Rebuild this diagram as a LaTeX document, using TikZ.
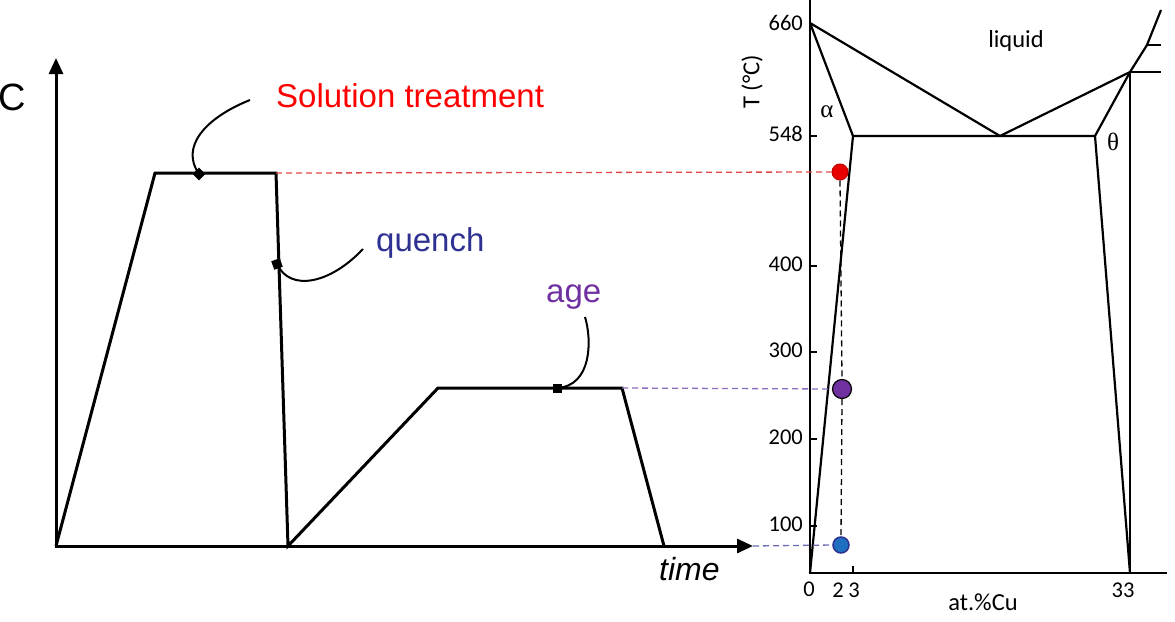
\documentclass[tikz,border=0pt]{standalone}
\usepackage{fontspec}
\setmainfont{Liberation Sans}
\newfontfamily\carlito{Carlito}
\newfontfamily\grkfont{Liberation Serif}
\usetikzlibrary{arrows.meta,shapes.geometric}
\definecolor{solred}{HTML}{FF0000}
\definecolor{qblue}{HTML}{2E3192}
\definecolor{agepurple}{HTML}{7030A0}
\definecolor{dashred}{HTML}{E04848}
\definecolor{dashpurple}{HTML}{8A6CC0}
\definecolor{dashblue}{HTML}{6A6AB8}
\definecolor{dotred}{HTML}{E80000}
\definecolor{dotredline}{HTML}{C00000}
\definecolor{dotblue}{HTML}{1F6FC0}
\tikzset{
  profile/.style={line width=3pt, line join=miter},
  axisarrow/.style={line width=3pt, -{Triangle[length=16pt,width=14pt]}},
  leader/.style={line width=2pt},
  phase/.style={line width=2.2pt, line join=miter},
  tickmark/.style={line width=2pt},
  guide/.style={line width=1.3pt, dash pattern=on 6pt off 4pt},
  bigtxt/.style={font=\fontsize{33}{40}\selectfont, inner sep=0pt},
  numtxt/.style={font=\carlito\fontsize{22.5}{26}\selectfont, inner sep=0pt},
  lbltxt/.style={font=\carlito\fontsize{24.5}{28}\selectfont, inner sep=0pt},
  grktxt/.style={font=\grkfont\fontsize{25}{30}\selectfont, inner sep=0pt},
  marker/.style={fill=black, draw=none, inner sep=0pt, minimum size=9pt},
}
\begin{document}
\begin{tikzpicture}[x=1pt,y=-1pt]
\useasboundingbox (0,0) rectangle (1175,621);

% ---------------- left chart ----------------
\coordinate (o) at (56,546);
\coordinate (ytop) at (56,58);
\coordinate (xend) at (753,546);
\coordinate (p1) at (155,173);
\coordinate (p2) at (276,173);
\coordinate (p3) at (288,546);
\coordinate (p4) at (438,388);
\coordinate (p5) at (622,388);
\coordinate (p6) at (664,546);

\draw[axisarrow] (56,547.5) -- (ytop);
\draw[axisarrow] (54.5,546) -- (xend);
\draw[profile] (o) -- (p1) -- (p2) -- (p3) -- (p4) -- (p5) -- (p6);

% markers
\node[marker, shape=diamond, minimum size=13pt] (msol) at (199,174) {};
\node[marker, rotate=20] (mque) at (277,264) {};
\node[marker] (mage) at (557,388) {};

% leaders
\coordinate (lsol) at (250,100);
\coordinate (lque) at (363,249);
\coordinate (lage) at (585,317);
\draw[leader] (lsol) .. controls (205,118) and (180,147) .. (msol.center);
\draw[leader] (mque.center) .. controls (290,292) and (330,284) .. (lque);
\draw[leader] (mage.center) .. controls (592,386) and (592,340) .. (lage);

% texts
\node[bigtxt, font=\fontsize{38}{44}\selectfont, anchor=center] (clab) at (12,97) {C};
\node[bigtxt, text=solred, anchor=base west] (soltxt) at (276,107) {Solution treatment};
\node[bigtxt, text=qblue, anchor=base west] (quetxt) at (376,251) {quench};
\node[bigtxt, text=agepurple, anchor=base west] (agetxt) at (546,302) {age};
\node[bigtxt, font=\itshape\fontsize{32}{38}\selectfont, anchor=base west] (timetxt) at (659,580) {time};

% ---------------- phase diagram ----------------
\coordinate (ax0) at (810,573);
\coordinate (axtop) at (810,0);
\coordinate (axright) at (1167,573);
\coordinate (m660) at (810,23);
\coordinate (a548) at (853,136);
\coordinate (eut) at (1000,136);
\coordinate (t548) at (1095,136);
\coordinate (tpk) at (1130,72);
\coordinate (tmid) at (1147,45);
\coordinate (ttop) at (1161,10);
\coordinate (tbot) at (1130,573);

\draw[phase] (axtop) -- (ax0) -- (axright);
\draw[phase] (m660) -- (a548) -- (t548) -- (tpk);
\draw[phase] (m660) -- (eut) -- (tpk) -- (tmid) -- (ttop);
\draw[phase] (a548) -- (ax0);
\draw[phase] (t548) -- (tbot);
\draw[phase] (tpk) -- (tbot);
\draw[phase] (tpk) -- (1161,72);
\draw[phase] (tmid) -- (1161,45);

% ticks
\foreach \yy in {136,266,352,439,526} \draw[tickmark] (810,\yy) -- (817,\yy);
\draw[tickmark] (853,573) -- (853,566);

% tick labels
\node[numtxt, anchor=east] (l660) at (803,23) {660};
\node[numtxt, anchor=east] (l548) at (803,134) {548};
\node[numtxt, anchor=east] (l400) at (803,264) {400};
\node[numtxt, anchor=east] (l300) at (803,350) {300};
\node[numtxt, anchor=east] (l200) at (803,437) {200};
\node[numtxt, anchor=east] (l100) at (803,524) {100};
\node[numtxt] (x0) at (809,589) {0};
\node[numtxt] (x2) at (838,590) {2};
\node[numtxt] (x3) at (854,590) {3};
\node[numtxt] (x33) at (1123,590) {33};
\node[lbltxt] (xlab) at (983,602) {at.\%Cu};
\node[lbltxt, rotate=90] (ylab) at (752,82) {T (°C)};
\node[lbltxt] (liq) at (1016,41) {liquid};
\node[grktxt] (alph) at (827,112) {α};
\node[grktxt] (thet) at (1113,142) {θ};

% dots
\node[circle, fill=dotred, draw=dotredline, line width=1pt, minimum size=16pt, inner sep=0pt] (dred) at (840,172) {};
\node[circle, fill=agepurple, draw=black, line width=1.2pt, minimum size=19pt, inner sep=0pt] (dpur) at (842,389) {};
\node[circle, fill=dotblue, draw=qblue, line width=1.5pt, minimum size=16pt, inner sep=0pt] (dblu) at (841,545) {};

% guide lines
\draw[guide, dashred] (p2) -- (dred.west);
\draw[guide, dashpurple] (p5) -- (dpur.west);
\draw[guide, dashblue] (xend) -- (dblu.west);
\draw[guide, black] (dred.south) -- (dpur.north);
\draw[guide, black] (dpur.south) -- (dblu.north);
\end{tikzpicture}
\end{document}
